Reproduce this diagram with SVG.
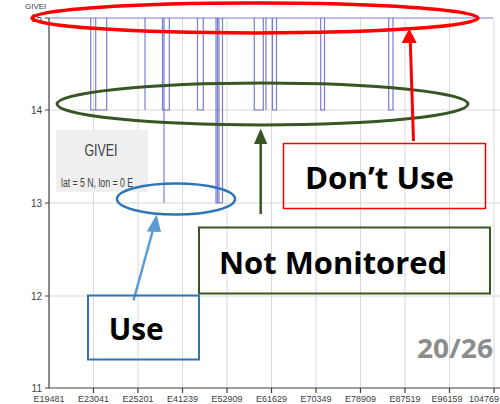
<svg xmlns="http://www.w3.org/2000/svg" width="500" height="404" viewBox="0 0 500 404">
<style>
.grid{stroke:#d9d9d9;stroke-width:1;fill:none}
.axis{stroke:#404040;stroke-width:1.2;fill:none}
.tick{font-family:"Liberation Sans",Arial,sans-serif;font-size:10px;fill:#404040}
.xt{font-family:"Liberation Sans",Arial,sans-serif;font-size:9px;fill:#404040;text-anchor:middle}
.data{stroke:#5050c0;stroke-width:1.2;fill:none;stroke-opacity:0.75}
.lbl{font-family:"Open Sans","Noto Sans",sans-serif;font-weight:bold;fill:#000}
</style>
<rect width="500" height="404" fill="#ffffff"/>
<g id="chart">
<g class="grid">
<path d="M49 110H500M49 203H500M49 296H500"/>
<path d="M93.5 18V388M138 18V388M182.5 18V388M227 18V388M271.5 18V388M316 18V388M360.5 18V388M405 18V388M449.5 18V388M494 18V388"/>
</g>
<g class="axis">
<path d="M49 18V388H500"/>
<path d="M45 18H49M45 110H49M45 203H49M45 296H49M45 388H49"/>
<path d="M93.5 388V393M138 388V393M182.5 388V393M227 388V393M271.5 388V393M316 388V393M360.5 388V393M405 388V393M449.5 388V393M494 388V393"/>
</g>
<g class="tick" text-anchor="end">
<text x="42" y="21.5">15</text>
<text x="42" y="113.5">14</text>
<text x="42" y="206.5">13</text>
<text x="42" y="299.5">12</text>
<text x="42" y="391.5">11</text>
</g>
<g class="xt">
<text x="49" y="402">E19481</text>
<text x="93.5" y="402">E23041</text>
<text x="138" y="402">E25201</text>
<text x="182.5" y="402">E41239</text>
<text x="227" y="402">E52909</text>
<text x="271.5" y="402">E61629</text>
<text x="316" y="402">E70349</text>
<text x="360.5" y="402">E78909</text>
<text x="405" y="402">E87519</text>
<text x="447" y="402">E96159</text>
<text x="484" y="402">104769</text>
</g>
<text class="tick" x="25" y="9" style="font-size:8px">GIVEI</text>
<g class="data">
<path d="M49 18H493"/>
<path d="M90.7 18V110H106.7V18M95.7 18V110"/>
<path d="M145 18V110"/>
<path d="M162.5 18V110H169.3V18M164 18V203"/>
<path d="M197.5 18V110H203.3V18"/>
<path d="M216 18V203H222.5V18M217.5 18V203M219 18V203"/>
<path d="M254.3 18V110H263.3V18M266 18V110M272.5 18V110H276.5V18"/>
<path d="M320.7 18V110H324.5V18"/>
<path d="M388.7 18V110H393V18"/>
</g>
<g id="legend">
<rect x="56" y="130" width="92" height="62" fill="#efefef"/>
<text x="101" y="156" text-anchor="middle" font-family="'Liberation Sans',Arial,sans-serif" font-size="17" fill="#404040" textLength="33" lengthAdjust="spacingAndGlyphs">GIVEI</text>
<text x="97" y="186.5" text-anchor="middle" font-family="'Liberation Sans',Arial,sans-serif" font-size="12.5" fill="#404040" textLength="72" lengthAdjust="spacingAndGlyphs">lat = 5 N, lon = 0 E</text>
</g>
</g>
<g id="red-ellipse"><ellipse cx="255" cy="18" rx="223" ry="15" fill="none" stroke="#ff0000" stroke-width="3.5"/></g>
<g id="green-ellipse"><ellipse cx="262.5" cy="104" rx="205.5" ry="21" fill="none" stroke="#375623" stroke-width="3"/></g>
<g id="blue-ellipse"><ellipse cx="176" cy="199" rx="59" ry="15.5" fill="none" stroke="#2e75b6" stroke-width="2.5"/></g>
<g id="connectors">
<path d="M413.5 141L410.3 42" stroke="#ff0000" stroke-width="3" fill="none"/>
<path d="M409.3 28.5L401.7 43L416.7 43z" fill="#ff0000"/>
<path d="M260.7 214V143" stroke="#375623" stroke-width="2.5" fill="none"/>
<path d="M260.7 128.5L254 144L267.3 144z" fill="#375623"/>
<path d="M133.5 300.5L153.5 228" stroke="#5b9bd5" stroke-width="2.5" fill="none"/>
<path d="M156.7 214.5L146.7 231.5L161 232z" fill="#5b9bd5"/>
</g>
<g id="dont-use">
<rect x="283.5" y="143.5" width="202" height="65" fill="none" stroke="#ff0000" stroke-width="1.5"/>
<text class="lbl" x="305" y="188.5" font-size="31" textLength="149" lengthAdjust="spacingAndGlyphs">Don’t Use</text>
</g>
<g id="not-monitored">
<rect x="199" y="227.5" width="291" height="66" fill="none" stroke="#375623" stroke-width="2"/>
<text class="lbl" x="219" y="273.5" font-size="31" textLength="228" lengthAdjust="spacingAndGlyphs">Not Monitored</text>
</g>
<g id="use">
<rect x="88" y="295.5" width="111" height="64" fill="none" stroke="#2e75b6" stroke-width="2"/>
<text class="lbl" x="108.7" y="340" font-size="31" textLength="55" lengthAdjust="spacingAndGlyphs">Use</text>
</g>
<text x="417" y="357.5" font-family="'Open Sans','Noto Sans',sans-serif" font-weight="bold" font-size="27" fill="#8c8c8c" textLength="76" lengthAdjust="spacingAndGlyphs">20/26</text>
</svg>
